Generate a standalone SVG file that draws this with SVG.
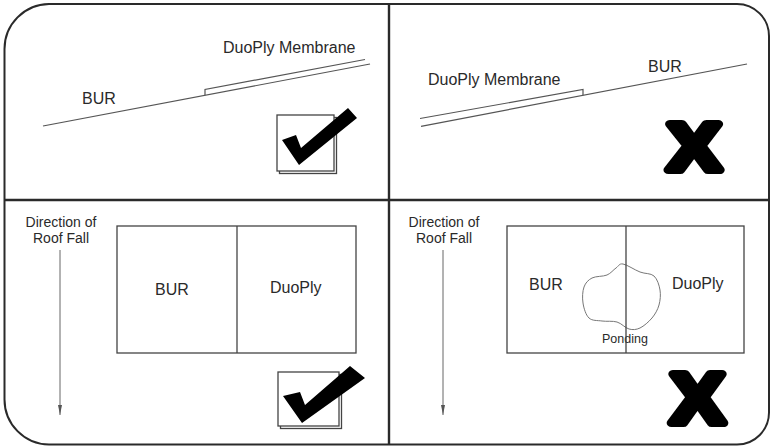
<svg xmlns="http://www.w3.org/2000/svg" width="771" height="447" viewBox="0 0 771 447">
<style>
.frame{fill:none;stroke:#2a2a2a;stroke-width:2}
.div{stroke:#2a2a2a;stroke-width:2.4}
.ln{fill:none;stroke:#555;stroke-width:1.2}
.box{fill:none;stroke:#444;stroke-width:1.3}
.t{font-family:"Liberation Sans",Arial,sans-serif;fill:#2a2a2a}
.t16{font-size:16px}
.t14{font-size:14px}
.mark{fill:#000}
.x{font-family:"Liberation Sans",Arial,sans-serif;font-weight:bold;fill:#000;stroke:#000;stroke-width:8;stroke-linejoin:round}
.arrow{stroke:#666;stroke-width:1;fill:none}
</style>
<defs>
<marker id="ah" markerUnits="userSpaceOnUse" markerWidth="10" markerHeight="4" refX="10" refY="2" orient="auto">
<path d="M0,0 L10,2 L0,4 Z" fill="#555"/>
</marker>
</defs>
<rect width="771" height="447" fill="#fff"/>
<g id="frame">
<path class="frame" d="M49,4 H737 A32,32 0 0 1 769,36 V412 A32,32 0 0 1 737,444.5 H49 A45,45 0 0 1 4.5,399.5 V49 A45,45 0 0 1 49,4 Z"/>
<line class="div" x1="389" y1="4" x2="389" y2="445"/>
<line class="div" x1="4" y1="200" x2="769" y2="200"/>
</g>
<g id="panel-top-left">
<polyline class="ln" points="43,126 370,64"/>
<polyline class="ln" points="205,95.2 205,89.5 365,59.5"/>
<text class="t t16" x="223" y="53">DuoPly Membrane</text>
<text class="t t16" x="82" y="103.5">BUR</text>
<g id="check-top">
<rect class="box" x="279.5" y="117.5" width="57" height="56"/>
<rect class="box" x="277" y="115" width="57" height="56" style="fill:#fff"/>
<polygon class="mark" points="282,140 296,135 301,148 348,108 357,118 299,165"/>
</g>
</g>
<g id="panel-top-right">
<polyline class="ln" points="421,126.3 747,64"/>
<polyline class="ln" points="420,118.5 583,89.5 583,95.3"/>
<text class="t t16" x="428" y="85">DuoPly Membrane</text>
<text class="t t16" x="648" y="72">BUR</text>
<text class="x" transform="translate(667.5,170) scale(1.19,1)" x="0" y="0" font-size="67">X</text>
</g>
<g id="panel-bottom-left">
<text class="t t14" x="61" y="227" text-anchor="middle">Direction of</text>
<text class="t t14" x="61" y="243" text-anchor="middle">Roof Fall</text>
<g id="connectors-left">
<line class="arrow" x1="60" y1="250" x2="60" y2="415" marker-end="url(#ah)"/>
</g>
<rect class="box" x="117" y="226" width="239" height="127"/>
<line class="box" x1="237" y1="226" x2="237" y2="353"/>
<text class="t t16" x="155" y="295">BUR</text>
<text class="t t16" x="270" y="293">DuoPly</text>
<g id="check-bottom">
<rect class="box" x="280.5" y="374.5" width="61" height="54"/>
<rect class="box" x="278" y="372" width="61" height="54" style="fill:#fff"/>
<polygon class="mark" points="283,396 300,392 305,405 350,366 365,378 302,423"/>
</g>
</g>
<g id="panel-bottom-right">
<text class="t t14" x="444" y="227" text-anchor="middle">Direction of</text>
<text class="t t14" x="444" y="243" text-anchor="middle">Roof Fall</text>
<g id="connectors-right">
<line class="arrow" x1="443" y1="250" x2="443" y2="415" marker-end="url(#ah)"/>
</g>
<rect class="box" x="507" y="226" width="237" height="127"/>
<path class="ln" style="stroke:#777;stroke-width:1" d="M623,264 C627,264.7 634.8,270 640,272 C645.2,274 650.7,273 654,276 C657.3,279 659.2,285.2 660,290 C660.8,294.8 660.3,300.3 659,305 C657.7,309.7 655.2,314.2 652,318 C648.8,321.8 643.8,326.2 640,328 C636.2,329.8 632.8,330 629,329 C625.2,328 621.5,323.3 617,322 C612.5,320.7 606.7,321.7 602,321 C597.3,320.3 592.2,321 589,318 C585.8,315 583.8,308.2 583,303 C582.2,297.8 582.5,291.2 584,287 C585.5,282.8 588.2,280 592,278 C595.8,276 603,276.7 607,275 C611,273.3 613.3,269.8 616,268 C618.7,266.2 619,263.3 623,264 Z"/>
<text class="t" x="602" y="343" font-size="12.5">Ponding</text>
<line class="box" x1="626" y1="226" x2="626" y2="353"/>
<text class="t t16" x="529" y="290">BUR</text>
<text class="t t16" x="672" y="289">DuoPly</text>
<text class="x" transform="translate(670.5,423) scale(1.14,1)" x="0" y="0" font-size="71">X</text>
</g>
</svg>
